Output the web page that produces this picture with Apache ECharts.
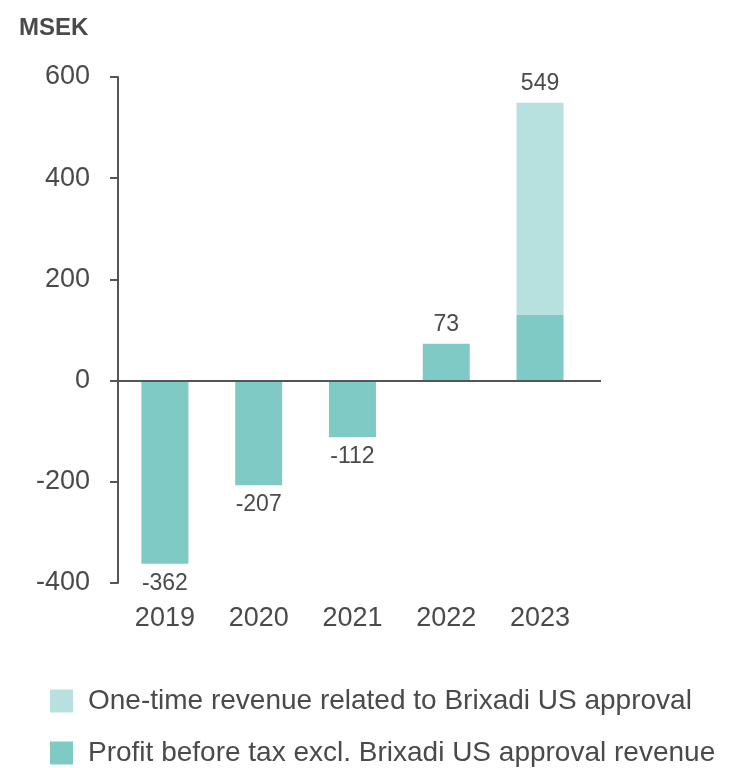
<!DOCTYPE html>
<html>
<head>
<meta charset="utf-8">
<script src="https://cdn.jsdelivr.net/npm/echarts@6/dist/echarts.min.js"></script>
<style>
  html, body { margin: 0; padding: 0; background: #fff; }
  #chart { width: 729px; height: 768px; }
</style>
</head>
<body>
<div id="chart"></div>
<script>
var years = ['2019', '2020', '2021', '2022', '2023'];
// profit before tax excl. Brixadi US approval revenue
var profit = [-362, -207, -112, 73, 130];
// one-time revenue related to Brixadi US approval
var oneTime = [0, 0, 0, 0, 419];
var yTicks = [-400, -200, 0, 200, 400, 600];

var textColor = '#4a4a4a';
var axisColor = '#555555';
var font = 'Liberation Sans, Arial, sans-serif';

var myChart = echarts.init(document.getElementById('chart'));

// value first, year index second -> stacked on the value dimension
var profitData = profit.map(function (v, i) {
    return {
        value: [v, i],
        label: { show: oneTime[i] === 0, position: v < 0 ? 'bottom' : 'top' }
    };
});
var oneTimeData = oneTime.map(function (v, i) {
    return {
        value: [v, i],
        label: { show: v > 0, position: 'top' }
    };
});

var labelStyle = {
    color: textColor,
    fontSize: 23,
    fontFamily: font,
    distance: 8,
    formatter: function (p) {
        var i = p.dataIndex;
        return String(profit[i] + oneTime[i]);
    }
};

var option = {
    animation: false,
    title: {
        text: 'MSEK',
        left: 14,
        top: 11,
        textStyle: { color: textColor, fontSize: 24, fontWeight: 'bold', fontFamily: font }
    },
    grid: { left: 118, right: 128, top: 77, bottom: 185, containLabel: false },
    legend: {
        orient: 'vertical',
        left: 50,
        top: 687,
        height: 200,
        padding: 0,
        itemWidth: 23,
        itemHeight: 23,
        itemGap: 24,
        icon: 'rect',
        data: ['One-time revenue related to Brixadi US approval', 'Profit before tax excl. Brixadi US approval revenue'],
        textStyle: { color: textColor, fontSize: 28, fontFamily: font, lineHeight: 23, padding: [0, 0, 0, 10] }
    },
    xAxis: {
        type: 'value',
        min: -0.5,
        max: 4.65,
        axisLine: { show: false },
        axisTick: { show: false },
        splitLine: { show: false },
        axisLabel: {
            customValues: [0, 1, 2, 3, 4],
            color: textColor,
            fontSize: 27,
            fontFamily: font,
            margin: 22,
            formatter: function (v) { return years[Math.round(v)]; }
        }
    },
    yAxis: {
        type: 'value',
        min: yTicks[0],
        max: yTicks[yTicks.length - 1],
        interval: 200,
        axisLine: { show: true, onZero: false, lineStyle: { color: axisColor, width: 2 } },
        axisTick: { show: true, length: 8, lineStyle: { color: axisColor, width: 2 } },
        splitLine: { show: false },
        axisLabel: { color: textColor, fontSize: 27, fontFamily: font, margin: 28 }
    },
    series: [{
        name: 'Profit before tax excl. Brixadi US approval revenue',
        type: 'bar',
        stack: 'total',
        barWidth: 47,
        encode: { x: 1, y: 0 },
        data: profitData,
        itemStyle: { color: '#7fcac4' },
        label: labelStyle,
        markLine: {
            silent: true,
            symbol: 'none',
            label: { show: false },
            lineStyle: { color: axisColor, width: 2, type: 'solid' },
            data: [{ yAxis: 0 }]
        }
    }, {
        name: 'One-time revenue related to Brixadi US approval',
        type: 'bar',
        stack: 'total',
        barWidth: 47,
        encode: { x: 1, y: 0 },
        data: oneTimeData,
        itemStyle: { color: '#b6e1df' },
        label: labelStyle
    }]
};
myChart.setOption(option);
window.onresize = myChart.resize;
</script>
</body>
</html>
